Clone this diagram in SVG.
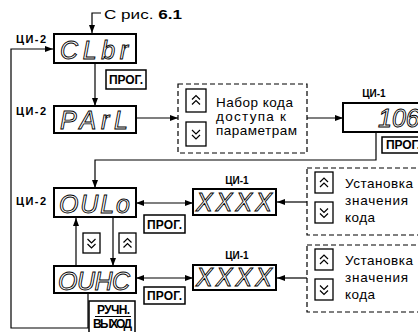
<svg xmlns="http://www.w3.org/2000/svg" width="418" height="332" viewBox="0 0 418 332">
<style>
.lcd{fill:#fff;stroke:#000;stroke-width:2}
.seg{font-family:"Liberation Sans",Arial,sans-serif;font-style:italic;font-size:25px;fill:#fff;stroke:#000;stroke-width:0.9}
.l2{font-family:"Liberation Sans",Arial,sans-serif;font-weight:bold;font-size:11px;fill:#000}
.l1{font-family:"Liberation Sans",Arial,sans-serif;font-weight:bold;font-size:10px;fill:#000;text-anchor:middle}
.btn{fill:#fff;stroke:#000;stroke-width:1.5}
.bt{font-family:"Liberation Sans",Arial,sans-serif;font-weight:bold;font-size:12px;fill:#000}
.key{fill:#fff;stroke:#000;stroke-width:1.3}
.chev{fill:none;stroke:#000;stroke-width:1.2}
.dash{fill:none;stroke:#000;stroke-width:1.2;stroke-dasharray:5 3}
.txt{font-family:"Liberation Sans",Arial,sans-serif;font-size:13.5px;fill:#000}
.wire{fill:none;stroke:#000;stroke-width:1.2}
</style>
<defs>
<marker id="ah" markerWidth="8" markerHeight="6" refX="8" refY="3" orient="auto-start-reverse" markerUnits="userSpaceOnUse"><path d="M0,0L8,3L0,6z" fill="#000"/></marker>
<path id="cu" d="M-4,-1L0,-5L4,-1M-4,4L0,0L4,4" class="chev"/>
<path id="cd" d="M-4,1L0,5L4,1M-4,-4L0,0L4,-4" class="chev"/>
</defs>

<g id="connectors">
<path class="wire" d="M101,13H92V33" marker-end="url(#ah)"/>
<path class="wire" d="M95,63V106" marker-end="url(#ah)"/>
<path class="wire" d="M88,293V328H11V49H53" marker-end="url(#ah)"/>
<path class="wire" d="M136,118H178" marker-end="url(#ah)"/>
<path class="wire" d="M307,118H343" marker-end="url(#ah)"/>
<path class="wire" d="M376,132V160H95V188" marker-end="url(#ah)"/>
<path class="wire" d="M136,203H193" marker-start="url(#ah)" marker-end="url(#ah)"/>
<path class="wire" d="M307,202H277" marker-end="url(#ah)"/>
<path class="wire" d="M136,278H193" marker-start="url(#ah)" marker-end="url(#ah)"/>
<path class="wire" d="M307,278H277" marker-end="url(#ah)"/>
<path class="wire" d="M76,266V218" marker-end="url(#ah)"/>
<path class="wire" d="M113,218V266" marker-end="url(#ah)"/>
</g>

<g id="ref">
<text class="txt" x="104" y="19" font-size="15" textLength="78" lengthAdjust="spacingAndGlyphs">С рис. <tspan font-weight="bold">6.1</tspan></text>
</g>

<g id="clbr">
<text class="l2" x="16" y="43" textLength="30">ЦИ-2</text>
<rect class="lcd" x="54" y="34" width="82" height="29"/>
<text class="seg" x="60" y="59" textLength="68">CLbr</text>
</g>

<g id="prog1">
<rect class="btn" x="106" y="70" width="40" height="19"/>
<text class="bt" x="109" y="84" textLength="34">ПРОГ.</text>
</g>

<g id="parl">
<text class="l2" x="16" y="115" textLength="30">ЦИ-2</text>
<rect class="lcd" x="54" y="106" width="82" height="27"/>
<text class="seg" x="60" y="129" textLength="68">PArL</text>
</g>

<g id="code-entry">
<rect class="dash" x="178" y="84" width="129" height="69"/>
<rect class="key" x="186" y="89" width="20" height="23"/>
<use href="#cu" x="196" y="100.5"/>
<rect class="key" x="186" y="122" width="20" height="24"/>
<use href="#cd" x="196" y="134"/>
<text class="txt" x="216" y="107" textLength="77">Набор кода</text>
<text class="txt" x="216" y="121" textLength="70">доступа к</text>
<text class="txt" x="216" y="135" textLength="81">параметрам</text>
</g>

<g id="ci1-106">
<text class="l1" x="374" y="97">ЦИ-1</text>
<rect class="lcd" x="343" y="103" width="90" height="29"/>
<text class="seg" x="378" y="127">106</text>
<rect class="btn" x="382" y="137" width="50" height="16"/>
<text class="bt" x="386" y="149" textLength="34">ПРОГ.</text>
</g>

<g id="oulo">
<text class="l2" x="16" y="205" textLength="30">ЦИ-2</text>
<rect class="lcd" x="54" y="188" width="82" height="29"/>
<text class="seg" x="59" y="213" textLength="71">OULo</text>
</g>

<g id="prog2">
<rect class="btn" x="144" y="215" width="41" height="18"/>
<text class="bt" x="147" y="228.5" textLength="35">ПРОГ.</text>
</g>

<g id="xxxx1">
<text class="l1" x="237" y="184">ЦИ-1</text>
<rect class="lcd" x="193" y="189" width="83" height="26"/>
<text class="seg" x="196" y="211" textLength="76">XXXX</text>
</g>

<g id="set1">
<rect class="dash" x="307" y="168" width="120" height="67"/>
<rect class="key" x="315" y="172" width="18" height="21"/>
<use href="#cu" x="324" y="183"/>
<rect class="key" x="315" y="202" width="18" height="21"/>
<use href="#cd" x="324" y="212.5"/>
<text class="txt" x="345" y="188" font-size="15" textLength="68">Установка</text>
<text class="txt" x="345" y="205" font-size="15" textLength="63">значения</text>
<text class="txt" x="345" y="222" font-size="15" textLength="30">кода</text>
</g>

<g id="keys-mid">
<rect class="key" x="83" y="233" width="17" height="20"/>
<use href="#cd" x="91.5" y="243"/>
<rect class="key" x="119" y="233" width="17" height="20"/>
<use href="#cu" x="127.5" y="243.5"/>
</g>

<g id="ouhc">
<rect class="lcd" x="54" y="266" width="82" height="27"/>
<text class="seg" x="58" y="290" textLength="72">OUHC</text>
</g>

<g id="prog3">
<rect class="btn" x="144" y="287" width="41" height="17"/>
<text class="bt" x="147" y="300" textLength="35">ПРОГ.</text>
</g>

<g id="xxxx2">
<text class="l1" x="237" y="259">ЦИ-1</text>
<rect class="lcd" x="193" y="265" width="83" height="25"/>
<text class="seg" x="196" y="286" textLength="76">XXXX</text>
</g>

<g id="set2">
<rect class="dash" x="307" y="245" width="120" height="67"/>
<rect class="key" x="315" y="249" width="18" height="21"/>
<use href="#cu" x="324" y="260"/>
<rect class="key" x="315" y="279" width="18" height="21"/>
<use href="#cd" x="324" y="289.5"/>
<text class="txt" x="345" y="265" font-size="15" textLength="68">Установка</text>
<text class="txt" x="345" y="282" font-size="15" textLength="63">значения</text>
<text class="txt" x="345" y="299" font-size="15" textLength="30">кода</text>
</g>

<g id="manual">
<rect class="btn" x="89" y="301" width="46" height="34"/>
<text class="bt" x="97" y="314" font-size="10" textLength="33">РУЧН.</text>
<line x1="95" y1="316.5" x2="131" y2="316.5" stroke="#000" stroke-width="1"/>
<text class="bt" x="93" y="328" font-size="10" textLength="39">ВЫХОД</text>
</g>
</svg>
